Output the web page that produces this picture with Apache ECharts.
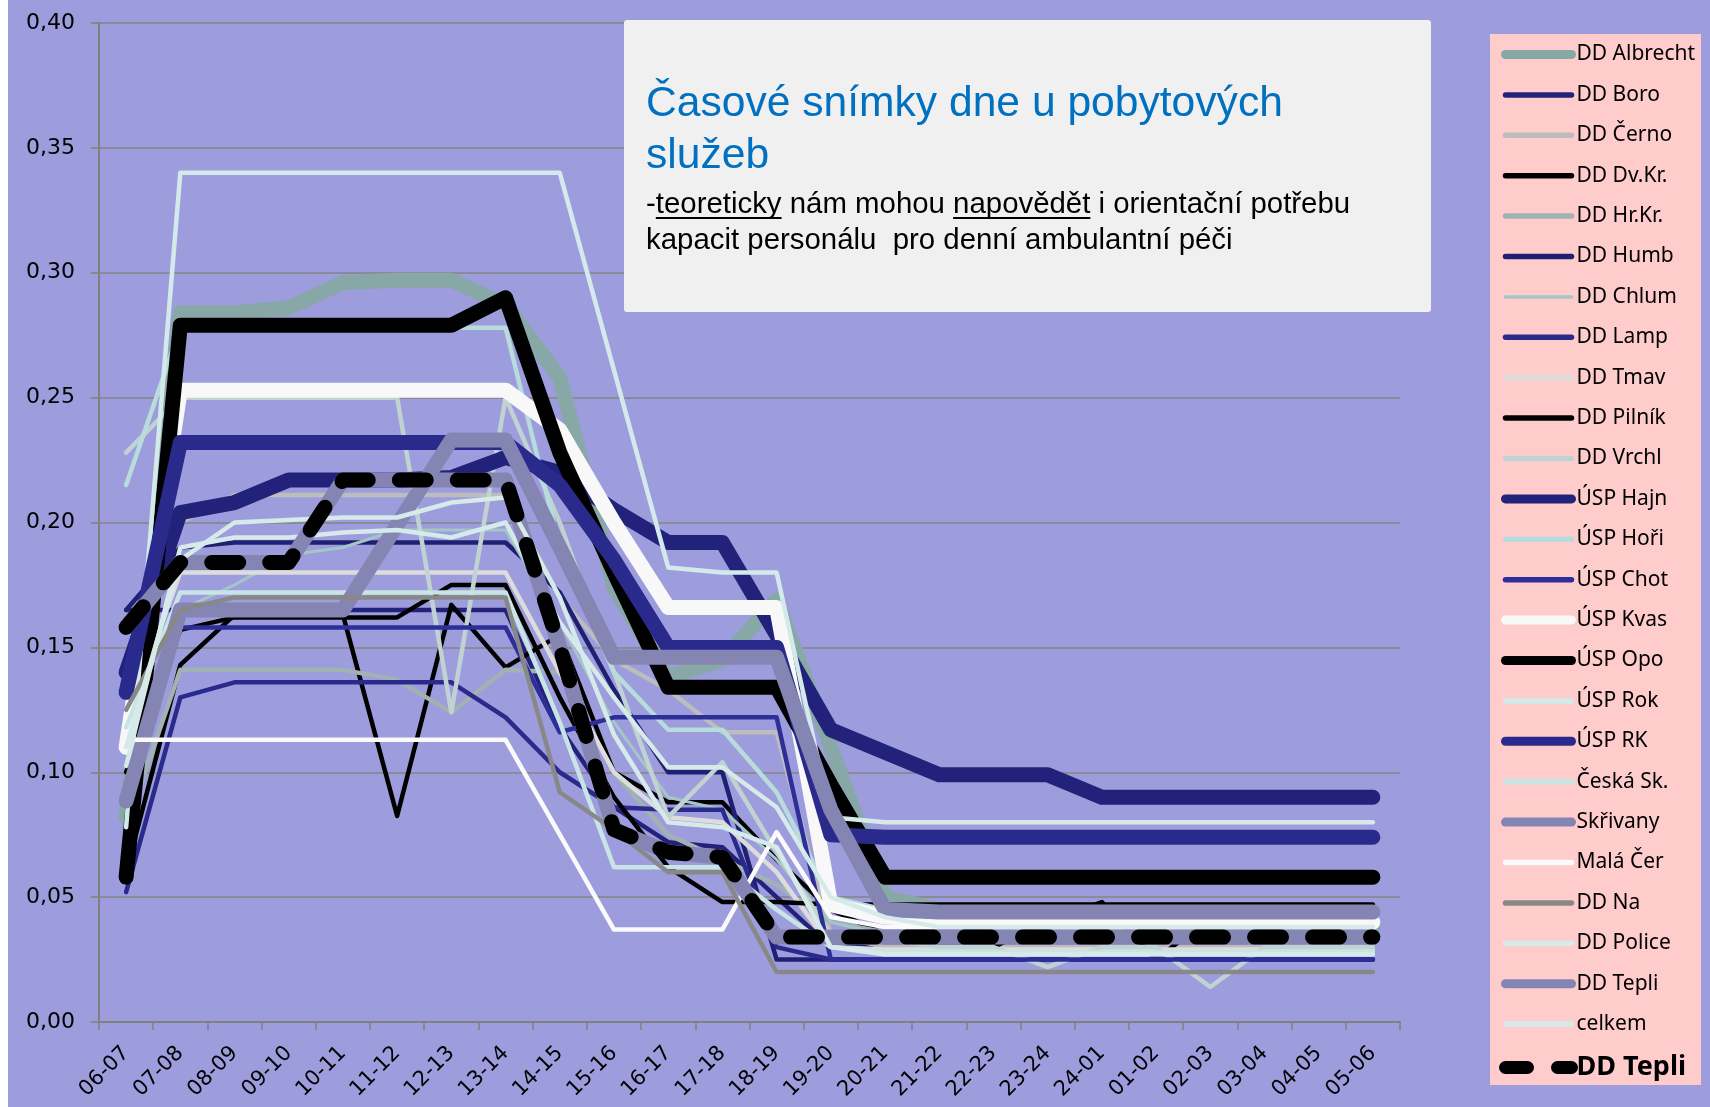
<!DOCTYPE html>
<html>
<head>
<meta charset="utf-8">
<title>Časové snímky dne</title>
<script src="https://cdn.jsdelivr.net/npm/echarts@6/dist/echarts.min.js"></script>
<style>
  html, body { margin: 0; padding: 0; background: #fff; }
  #main { width: 1710px; height: 1107px; }
</style>
</head>
<body>
<div id="main"></div>
<script>
// hodinové intervaly
const categories = ['06-07', '07-08', '08-09', '09-10', '10-11', '11-12', '12-13', '13-14',
  '14-15', '15-16', '16-17', '17-18', '18-19', '19-20', '20-21', '21-22', '22-23', '23-24',
  '24-01', '01-02', '02-03', '03-04', '04-05', '05-06'];

const yTicks = [0, 0.05, 0.1, 0.15, 0.2, 0.25, 0.3, 0.35, 0.4];

// hodnoty
const ddAlbrecht = [0.082, 0.284, 0.284, 0.286, 0.296, 0.297, 0.297, 0.287, 0.258, 0.174, 0.138, 0.145, 0.169, 0.11, 0.05, 0.045, 0.043, 0.042, 0.04, 0.04, 0.04, 0.04, 0.039, 0.038];
const ddBoro = [0.165, 0.165, 0.165, 0.165, 0.165, 0.165, 0.165, 0.165, 0.118, 0.086, 0.072, 0.07, 0.05, 0.03, 0.03, 0.03, 0.03, 0.03, 0.03, 0.03, 0.03, 0.03, 0.03, 0.03];
const ddCerno = [0.123, 0.2, 0.211, 0.211, 0.211, 0.211, 0.211, 0.211, 0.17, 0.145, 0.133, 0.116, 0.116, 0.035, 0.03, 0.03, 0.03, 0.03, 0.03, 0.03, 0.03, 0.03, 0.03, 0.03];
const ddDvKr = [0.06, 0.143, 0.163, 0.163, 0.163, 0.0825, 0.167, 0.142, 0.155, 0.1, 0.088, 0.088, 0.065, 0.045, 0.035, 0.03, 0.03, 0.04, 0.048, 0.025, 0.042, 0.045, 0.046, 0.046];
const ddHrKr = [0.078, 0.141, 0.141, 0.141, 0.141, 0.137, 0.124, 0.141, 0.14, 0.1, 0.075, 0.065, 0.055, 0.04, 0.036, 0.036, 0.036, 0.036, 0.036, 0.036, 0.036, 0.036, 0.036, 0.036];
const ddHumb = [0.165, 0.19, 0.192, 0.192, 0.192, 0.192, 0.192, 0.192, 0.172, 0.133, 0.1, 0.1, 0.025, 0.025, 0.025, 0.025, 0.025, 0.025, 0.025, 0.025, 0.025, 0.025, 0.025, 0.025];
const ddChlum = [0.09, 0.165, 0.175, 0.187, 0.19, 0.197, 0.197, 0.197, 0.16, 0.12, 0.09, 0.085, 0.065, 0.04, 0.035, 0.035, 0.035, 0.035, 0.035, 0.035, 0.035, 0.035, 0.035, 0.035];
const ddLamp = [0.052, 0.13, 0.136, 0.136, 0.136, 0.136, 0.136, 0.122, 0.1, 0.086, 0.085, 0.085, 0.03, 0.025, 0.025, 0.025, 0.025, 0.025, 0.025, 0.025, 0.025, 0.025, 0.025, 0.025];
const ddTmav = [0.12, 0.18, 0.18, 0.18, 0.18, 0.18, 0.18, 0.18, 0.14, 0.1, 0.082, 0.08, 0.06, 0.03, 0.029, 0.029, 0.029, 0.029, 0.029, 0.029, 0.029, 0.029, 0.029, 0.029];
const ddPilnik = [0.1, 0.157, 0.162, 0.162, 0.162, 0.162, 0.175, 0.175, 0.13, 0.09, 0.062, 0.048, 0.048, 0.047, 0.047, 0.047, 0.047, 0.047, 0.047, 0.047, 0.047, 0.047, 0.047, 0.047];
const ddVrchl = [0.228, 0.25, 0.25, 0.25, 0.25, 0.25, 0.124, 0.25, 0.2, 0.14, 0.082, 0.104, 0.068, 0.035, 0.033, 0.03, 0.03, 0.022, 0.03, 0.03, 0.014, 0.03, 0.03, 0.03];
const uspHajn = [0.14, 0.204, 0.208, 0.217, 0.217, 0.217, 0.218, 0.226, 0.22, 0.205, 0.192, 0.192, 0.155, 0.117, 0.108, 0.099, 0.099, 0.099, 0.09, 0.09, 0.09, 0.09, 0.09, 0.09];
const uspHori = [0.215, 0.278, 0.278, 0.278, 0.278, 0.278, 0.278, 0.278, 0.19, 0.14, 0.117, 0.117, 0.092, 0.05, 0.045, 0.04, 0.04, 0.04, 0.04, 0.04, 0.04, 0.04, 0.04, 0.04];
const uspChot = [0.09, 0.158, 0.158, 0.158, 0.158, 0.158, 0.158, 0.158, 0.116, 0.122, 0.122, 0.122, 0.122, 0.025, 0.025, 0.025, 0.025, 0.025, 0.025, 0.025, 0.025, 0.025, 0.025, 0.025];
const uspKvas = [0.11, 0.253, 0.253, 0.253, 0.253, 0.253, 0.253, 0.253, 0.237, 0.2, 0.166, 0.166, 0.166, 0.047, 0.042, 0.041, 0.04, 0.04, 0.04, 0.04, 0.04, 0.04, 0.04, 0.04];
const uspOpo = [0.058, 0.279, 0.279, 0.279, 0.279, 0.279, 0.279, 0.29, 0.228, 0.18, 0.134, 0.134, 0.134, 0.095, 0.058, 0.058, 0.058, 0.058, 0.058, 0.058, 0.058, 0.058, 0.058, 0.058];
const uspRok = [0.078, 0.34, 0.34, 0.34, 0.34, 0.34, 0.34, 0.34, 0.34, 0.261, 0.182, 0.18, 0.18, 0.082, 0.08, 0.08, 0.08, 0.08, 0.08, 0.08, 0.08, 0.08, 0.08, 0.08];
const uspRK = [0.132, 0.232, 0.232, 0.232, 0.232, 0.232, 0.232, 0.232, 0.215, 0.185, 0.15, 0.15, 0.15, 0.075, 0.074, 0.074, 0.074, 0.074, 0.074, 0.074, 0.074, 0.074, 0.074, 0.074];
const ceskaSk = [0.118, 0.172, 0.172, 0.172, 0.172, 0.172, 0.172, 0.172, 0.12, 0.062, 0.062, 0.062, 0.045, 0.03, 0.028, 0.028, 0.028, 0.028, 0.028, 0.028, 0.028, 0.028, 0.028, 0.028];
const skrivany = [0.0885, 0.165, 0.165, 0.165, 0.165, 0.199, 0.233, 0.233, 0.19, 0.146, 0.146, 0.146, 0.146, 0.085, 0.045, 0.044, 0.044, 0.044, 0.044, 0.044, 0.044, 0.044, 0.044, 0.044];
const malaCer = [0.113, 0.113, 0.113, 0.113, 0.113, 0.113, 0.113, 0.113, 0.075, 0.037, 0.037, 0.037, 0.076, 0.042, 0.038, 0.038, 0.038, 0.038, 0.038, 0.038, 0.038, 0.038, 0.038, 0.038];
const ddNa = [0.125, 0.165, 0.17, 0.17, 0.17, 0.17, 0.17, 0.17, 0.092, 0.077, 0.06, 0.06, 0.02, 0.02, 0.02, 0.02, 0.02, 0.02, 0.02, 0.02, 0.02, 0.02, 0.02, 0.02];
const ddPolice = [0.1025, 0.19, 0.194, 0.194, 0.196, 0.197, 0.194, 0.2, 0.16, 0.13, 0.102, 0.102, 0.086, 0.05, 0.042, 0.038, 0.038, 0.038, 0.038, 0.038, 0.038, 0.038, 0.038, 0.038];
const ddTepli = [0.158, 0.184, 0.184, 0.184, 0.217, 0.217, 0.217, 0.217, 0.15, 0.077, 0.068, 0.066, 0.034, 0.034, 0.034, 0.034, 0.034, 0.034, 0.034, 0.034, 0.034, 0.034, 0.034, 0.034];
const celkem = [0.11, 0.185, 0.2, 0.201, 0.202, 0.202, 0.208, 0.21, 0.17, 0.115, 0.08, 0.078, 0.07, 0.03, 0.027, 0.027, 0.027, 0.027, 0.027, 0.027, 0.027, 0.027, 0.027, 0.027];

// pořadí jako v legendě, pozdější řada se kreslí navrch
const seriesSpec = [
  { name: 'DD Albrecht', data: ddAlbrecht, color: '#88A8A8', width: 15, legendWidth: 9 },
  { name: 'DD Boro', data: ddBoro, color: '#22227A', width: 4.5, legendWidth: 5.5 },
  { name: 'DD Černo', data: ddCerno, color: '#BDBDBD', width: 4.5, legendWidth: 5.5 },
  { name: 'DD Dv.Kr.', data: ddDvKr, color: '#000000', width: 4.5, legendWidth: 5.5 },
  { name: 'DD Hr.Kr.', data: ddHrKr, color: '#A2B2B2', width: 4.5, legendWidth: 5.5 },
  { name: 'DD Humb', data: ddHumb, color: '#202072', width: 4.5, legendWidth: 5.5 },
  { name: 'DD Chlum', data: ddChlum, color: '#A4C6C6', width: 3, legendWidth: 3.5 },
  { name: 'DD Lamp', data: ddLamp, color: '#2A2A8C', width: 4.5, legendWidth: 5.5 },
  { name: 'DD Tmav', data: ddTmav, color: '#DCDCDC', width: 4.5, legendWidth: 5.5 },
  { name: 'DD Pilník', data: ddPilnik, color: '#000000', width: 4.5, legendWidth: 5.5 },
  { name: 'DD Vrchl', data: ddVrchl, color: '#C0D2D2', width: 4.5, legendWidth: 5.5 },
  { name: 'ÚSP Hajn', data: uspHajn, color: '#22227A', width: 15, legendWidth: 9 },
  { name: 'ÚSP Hoři', data: uspHori, color: '#B8DCDC', width: 4.5, legendWidth: 5.5 },
  { name: 'ÚSP Chot', data: uspChot, color: '#2E2E99', width: 4.5, legendWidth: 5.5 },
  { name: 'ÚSP Kvas', data: uspKvas, color: '#F8F8F8', width: 15, legendWidth: 9 },
  { name: 'ÚSP Opo', data: uspOpo, color: '#000000', width: 15, legendWidth: 9 },
  { name: 'ÚSP Rok', data: uspRok, color: '#D4EAEA', width: 4.5, legendWidth: 5.5 },
  { name: 'ÚSP RK', data: uspRK, color: '#2A2A8C', width: 15, legendWidth: 9 },
  { name: 'Česká Sk.', data: ceskaSk, color: '#C8E4E4', width: 4.5, legendWidth: 5.5 },
  { name: 'Skřivany', data: skrivany, color: '#8585B3', width: 15, legendWidth: 9 },
  { name: 'Malá Čer', data: malaCer, color: '#FAFAFA', width: 4.5, legendWidth: 5.5 },
  { name: 'DD Na', data: ddNa, color: '#888888', width: 4.5, legendWidth: 5.5 },
  { name: 'DD Police', data: ddPolice, color: '#D6EAEA', width: 4.5, legendWidth: 5.5 },
  { name: 'DD Tepli', data: ddTepli, color: '#8585B3', width: 15, legendWidth: 9 },
  { name: 'celkem', data: celkem, color: '#D6EAEA', width: 4.5, legendWidth: 5.5 },
  // stejná data jako DD Tepli, jen přerušovaně a tučně v legendě
  { name: 'DD Tepli ', data: ddTepli, color: '#000000', width: 15, legendWidth: 13, dash: [27, 31], legendDash: [22, 30], bold: true }
];

// podtržení v podtitulku
const subFont = 29.4;
const measure = document.createElement('canvas').getContext('2d');
measure.font = subFont + 'px "Liberation Sans"';
const tw = function (s) { return measure.measureText(s).width; };
const subX = 646, subBase = 214;
const u1a = subX + tw('-'), u1b = u1a + tw('teoreticky');
const u2a = subX + tw('-teoreticky nám mohou '), u2b = u2a + tw('napovědět');

var chart = echarts.init(document.getElementById('main'), null, { renderer: 'canvas' });

var opt = {
  animation: false,
  backgroundColor: '#9D9DDE',
  grid: { left: 99, right: 310, top: 23, bottom: 85 },
  xAxis: {
    type: 'category',
    data: categories,
    boundaryGap: true,
    axisLine: { lineStyle: { color: '#808080', width: 2 } },
    axisTick: { show: true, length: 8, interval: 0, lineStyle: { color: '#808080', width: 1.5 } },
    axisLabel: {
      interval: 0, rotate: 45, margin: 28,
      fontFamily: 'DejaVu Sans', fontSize: 21, color: '#000'
    },
    splitLine: { show: false }
  },
  yAxis: {
    type: 'value',
    min: yTicks[0], max: yTicks[yTicks.length - 1], interval: 0.05,
    axisLine: { show: true, lineStyle: { color: '#808080', width: 2 } },
    axisTick: { show: true, length: 8, lineStyle: { color: '#808080', width: 1.5 } },
    axisLabel: {
      margin: 24, fontFamily: 'DejaVu Sans', fontSize: 22, color: '#000',
      formatter: function (v) { return v.toFixed(2).replace('.', ','); }
    },
    splitLine: { lineStyle: { color: '#858585', width: 1.5 } }
  },
  legend: {
    orient: 'vertical',
    left: 1499, top: 44, height: 1062,
    padding: 0,
    itemWidth: 66, itemHeight: 20, itemGap: 19.4,
    selectedMode: false,
    z: 5,
    textStyle: { fontFamily: 'Noto Sans', fontSize: 21, color: '#000' },
    data: seriesSpec.map(function (s) {
      return {
        name: s.name,
        itemStyle: { opacity: 0 },
        lineStyle: { width: s.legendWidth, color: s.color, type: s.legendDash || 'solid', cap: 'round', opacity: 1 },
        textStyle: s.bold ? { fontWeight: 'bold', fontSize: 27 } : undefined
      };
    })
  },
  graphic: [
    { type: 'rect', z: 0, shape: { x: 0, y: 0, width: 8, height: 1107 }, style: { fill: '#ffffff' } },
    { type: 'rect', z: 1, shape: { x: 1490, y: 34, width: 211, height: 1051 }, style: { fill: '#FFCCCC' } },
    { type: 'rect', z: 20, shape: { x: 624, y: 20, width: 807, height: 292, r: 3 }, style: { fill: '#F0F0F0' } },
    {
      type: 'text', z: 21, x: 646, y: 104,
      style: { text: 'Časové snímky dne u pobytových', fill: '#0070C0', fontSize: 42.6, fontFamily: 'Liberation Sans', verticalAlign: 'middle' }
    },
    {
      type: 'text', z: 21, x: 646, y: 156,
      style: { text: 'služeb', fill: '#0070C0', fontSize: 42.6, fontFamily: 'Liberation Sans', verticalAlign: 'middle' }
    },
    {
      type: 'text', z: 21, x: subX, y: subBase - 9,
      style: { text: '-teoreticky nám mohou napovědět i orientační potřebu', fill: '#000', fontSize: subFont, fontFamily: 'Liberation Sans', verticalAlign: 'middle' }
    },
    {
      type: 'text', z: 21, x: subX, y: 241,
      style: { text: 'kapacit personálu  pro denní ambulantní péči', fill: '#000', fontSize: subFont, fontFamily: 'Liberation Sans', verticalAlign: 'middle' }
    },
    { type: 'line', z: 21, shape: { x1: u1a, y1: subBase + 4, x2: u1b, y2: subBase + 4 }, style: { stroke: '#000', lineWidth: 2 } },
    { type: 'line', z: 21, shape: { x1: u2a, y1: subBase + 4, x2: u2b, y2: subBase + 4 }, style: { stroke: '#000', lineWidth: 2 } }
  ],
  series: seriesSpec.map(function (s) {
    return {
      name: s.name,
      type: 'line',
      data: s.data,
      symbol: 'none',
      silent: true,
      emphasis: { disabled: true },
      itemStyle: { color: s.color },
      lineStyle: { color: s.color, width: s.width, type: s.dash || 'solid', cap: 'round', join: 'round' }
    };
  })
};

chart.setOption(opt);
</script>
</body>
</html>
